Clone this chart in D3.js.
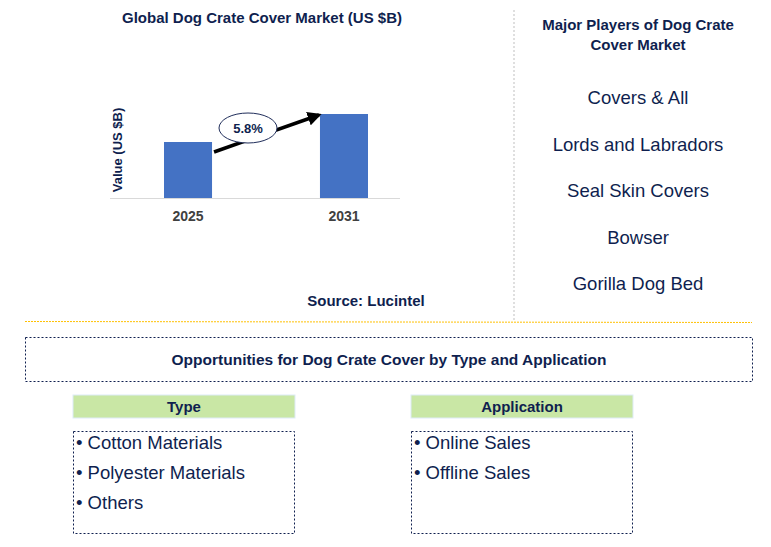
<!DOCTYPE html>
<html><head><meta charset="utf-8">
<script src="https://cdn.jsdelivr.net/npm/d3@7"></script>
<style>body{margin:0;background:#fff}text{font-family:"Liberation Sans",Arial,sans-serif}</style>
</head><body><svg id="c" width="771" height="547"></svg>
<script>
const years = ['2025', '2031'];
const values = [1.0, 1.5];
const cagr = '5.8%';
const players = ['Covers & All', 'Lords and Labradors', 'Seal Skin Covers', 'Bowser', 'Gorilla Dog Bed'];
const types = ['Cotton Materials', 'Polyester Materials', 'Others'];
const applications = ['Online Sales', 'Offline Sales'];

const navy = '#0f1f4f';
const svg = d3.select('#c');

svg.append('text').attr('x', 262).attr('y', 23).attr('text-anchor', 'middle')
  .attr('font-size', 15).attr('font-weight', 'bold').attr('fill', navy)
  .text('Global Dog Crate Cover Market (US $B)');

const x = d3.scaleBand().domain(years).range([164, 368]).paddingInner(0.692).paddingOuter(0);
const y = d3.scaleLinear().domain([0, 1.5]).range([198, 114]);

svg.append('line').attr('x1', 110).attr('x2', 400).attr('y1', 198.5).attr('y2', 198.5)
  .attr('stroke', '#d9d9d9');
svg.selectAll('rect.bar').data(values).enter().append('rect').attr('class', 'bar')
  .attr('x', (d, i) => x(years[i])).attr('width', x.bandwidth())
  .attr('y', d => y(d)).attr('height', d => y(0) - y(d)).attr('fill', '#4472c4');
svg.selectAll('text.yr').data(years).enter().append('text').attr('class', 'yr')
  .attr('x', d => x(d) + x.bandwidth() / 2).attr('y', 221).attr('text-anchor', 'middle')
  .attr('font-size', 14).attr('font-weight', 'bold').attr('fill', '#404040').text(d => d);
svg.append('text').attr('transform', 'translate(122,150) rotate(-90)').attr('text-anchor', 'middle')
  .attr('font-size', 13).attr('font-weight', 'bold').attr('fill', navy).text('Value (US $B)');

svg.append('defs').append('marker').attr('id', 'ah').attr('viewBox', '0 0 10 10')
  .attr('refX', 8).attr('refY', 5).attr('markerWidth', 4).attr('markerHeight', 4).attr('orient', 'auto')
  .append('path').attr('d', 'M0,0L10,5L0,10z').attr('fill', '#000');
const x0 = x(years[0]) + x.bandwidth(), x1 = x(years[1]);
svg.append('line').attr('x1', x0 + 2).attr('y1', y(values[0]) + 10).attr('x2', x1 - 1).attr('y2', y(values[1]) + 1)
  .attr('stroke', '#000').attr('stroke-width', 3.5).attr('marker-end', 'url(#ah)');
svg.append('ellipse').attr('cx', 248).attr('cy', 128).attr('rx', 29).attr('ry', 15)
  .attr('fill', '#fff').attr('stroke', '#1f2d5a');
svg.append('text').attr('x', 248).attr('y', 133).attr('text-anchor', 'middle')
  .attr('font-size', 13).attr('font-weight', 'bold').attr('fill', navy).text(cagr);

svg.append('text').attr('x', 366).attr('y', 306).attr('text-anchor', 'middle')
  .attr('font-size', 15).attr('font-weight', 'bold').attr('fill', navy).text('Source: Lucintel');

svg.append('line').attr('x1', 514).attr('x2', 514).attr('y1', 10).attr('y2', 320)
  .attr('stroke', '#bfbfbf').attr('stroke-dasharray', '2,2');
svg.append('text').attr('x', 638).attr('y', 30).attr('text-anchor', 'middle')
  .attr('font-size', 15).attr('font-weight', 'bold').attr('fill', navy)
  .selectAll('tspan').data(['Major Players of Dog Crate', 'Cover Market']).enter().append('tspan')
  .attr('x', 638).attr('dy', (d, i) => i ? 20 : 0).text(d => d);
svg.selectAll('text.pl').data(players).enter().append('text').attr('class', 'pl')
  .attr('x', 638).attr('y', (d, i) => 104 + i * 46.5).attr('text-anchor', 'middle')
  .attr('font-size', 18.5).attr('fill', navy).text(d => d);

svg.append('line').attr('x1', 25).attr('x2', 752).attr('y1', 321.5).attr('y2', 322.5)
  .attr('stroke', '#ffc000').attr('stroke-dasharray', '2,1');

svg.append('rect').attr('x', 25.5).attr('y', 337.5).attr('width', 727).attr('height', 44)
  .attr('fill', 'none').attr('stroke', navy).attr('stroke-dasharray', '2,2');
svg.append('text').attr('x', 389).attr('y', 365).attr('text-anchor', 'middle')
  .attr('font-size', 15.5).attr('font-weight', 'bold').attr('fill', navy)
  .text('Opportunities for Dog Crate Cover by Type and Application');

[[73, 'Type', types], [411, 'Application', applications]].forEach(([bx, head, items]) => {
  svg.append('rect').attr('x', bx).attr('y', 395).attr('width', 222).attr('height', 23)
    .attr('fill', '#c9e7a5').attr('stroke', '#deebf7');
  svg.append('text').attr('x', bx + 111).attr('y', 412).attr('text-anchor', 'middle')
    .attr('font-size', 15).attr('font-weight', 'bold').attr('fill', navy).text(head);
  svg.append('rect').attr('x', bx + 0.5).attr('y', 431.5).attr('width', 221).attr('height', 102)
    .attr('fill', 'none').attr('stroke', navy).attr('stroke-dasharray', '2,2');
  svg.selectAll(null).data(items).enter().append('text')
    .attr('x', bx + 3).attr('y', (d, i) => 449 + i * 30)
    .attr('font-size', 18.5).attr('fill', navy).text(d => '\u2022 ' + d);
});
</script></body></html>
